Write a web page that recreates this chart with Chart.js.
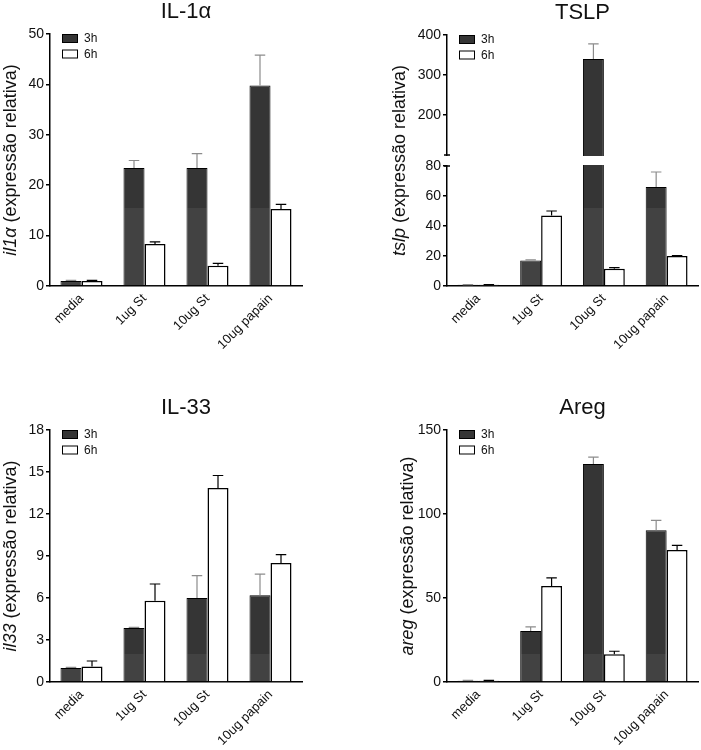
<!DOCTYPE html>
<html>
<head>
<meta charset="utf-8">
<script src="https://cdn.jsdelivr.net/npm/chart.js@4.4.0/dist/chart.umd.min.js"></script>
<style>
  body { margin: 0; background: #fff; }
  #wrap { position: relative; width: 701px; height: 750px; }
  canvas { position: absolute; }
</style>
</head>
<body>
<div id="wrap">
  <canvas id="c1" width="350" height="375" style="left:0;top:0"></canvas>
  <canvas id="c2" width="351" height="375" style="left:350px;top:0"></canvas>
  <canvas id="c3" width="350" height="375" style="left:0;top:375px"></canvas>
  <canvas id="c4" width="351" height="375" style="left:350px;top:375px"></canvas>
</div>
<script>
// data
const groups = ['media', '1ug St', '10ug St', '10ug papain'];
const seriesNames = ['3h', '6h'];

const il1a3h = [1.0, 23.4, 23.4, 39.8];
const il1a3hErr = [0.1, 1.5, 2.85, 6.0];
const il1a6h = [1.0, 8.35, 4.0, 15.3];
const il1a6hErr = [0.1, 0.4, 0.5, 0.9];
const il1aTicks = [0, 10, 20, 30, 40, 50];

const tslp3h = [0.8, 17, 340, 66];
const tslp3hErr = [0.1, 0.4, 38, 10];
const tslp6h = [0.8, 47, 11.5, 20];
const tslp6hErr = [0.1, 3, 0.8, 0.3];
const tslpTicks = [0, 20, 40, 60, 80, 200, 300, 400];
const tslpBreak = [80, 100];

const il33_3h = [1.0, 3.85, 6.0, 6.2];
const il33_3hErr = [0.05, 0.05, 1.6, 1.5];
const il33_6h = [1.1, 5.8, 13.85, 8.5];
const il33_6hErr = [0.4, 1.2, 0.9, 0.6];
const il33Ticks = [0, 3, 6, 9, 12, 15, 18];

const areg3h = [0.8, 30.4, 129.7, 90.4];
const areg3hErr = [0.2, 2.4, 4.2, 5.8];
const areg6h = [0.8, 57.2, 16.5, 78.5];
const areg6hErr = [0.2, 4.8, 1.8, 2.8];
const aregTicks = [0, 50, 100, 150];

const FONT = "'Liberation Sans', Arial, sans-serif";
const dark = '#353535';
const darkLow = '#424242';

// the scanned bars are a shade lighter below a certain row
function darkFill(chart, bandY) {
  const g = chart.ctx.createLinearGradient(0, 0, 0, chart.height);
  const f = bandY / chart.height;
  g.addColorStop(0, dark);
  g.addColorStop(f, dark);
  g.addColorStop(f, darkLow);
  g.addColorStop(1, darkLow);
  return g;
}

// linear scale with a gap between breakLow and breakHigh
class BrokenScale extends Chart.LinearScale {
  static id = 'broken';
  getPixelForValue(value) {
    const o = this.options;
    const lo = o.breakLow, hi = o.breakHigh, a = o.lowShare, g = o.gapShare;
    let d;
    if (value <= lo) d = (value - this.min) / (lo - this.min) * a;
    else if (value >= hi) d = a + g + (value - hi) / (this.max - hi) * (1 - a - g);
    else d = a + (value - lo) / (hi - lo) * g;
    return this.getPixelForDecimal(d);
  }
}
Chart.register(BrokenScale);

const axisBreak = {
  id: 'axisBreak',
  afterDatasetsDraw(chart, args, opts) {
    if (!opts.range) return;
    const y = chart.scales.y;
    const { ctx, chartArea } = chart;
    const yLo = y.getPixelForValue(opts.range[0]);
    const yHi = y.getPixelForValue(opts.range[1]);
    ctx.save();
    ctx.fillStyle = '#fff';
    ctx.fillRect(chartArea.left - 3, yHi + 1, chartArea.right - chartArea.left + 3, yLo - yHi - 2);
    ctx.strokeStyle = '#000';
    ctx.lineWidth = 1.5;
    ctx.beginPath();
    ctx.moveTo(chartArea.left - 3, yHi); ctx.lineTo(chartArea.left + 3, yHi);
    ctx.moveTo(chartArea.left - 3, yLo); ctx.lineTo(chartArea.left + 3, yLo);
    ctx.stroke();
    ctx.restore();
  }
};

const errorBars = {
  id: 'errorBars',
  afterDatasetsDraw(chart) {
    const ctx = chart.ctx;
    const y = chart.scales.y;
    chart.data.datasets.forEach((ds, i) => {
      const meta = chart.getDatasetMeta(i);
      ctx.save();
      ctx.strokeStyle = ds.errorColor;
      ctx.lineWidth = 1.2;
      meta.data.forEach((bar, j) => {
        const top = y.getPixelForValue(ds.data[j] + ds.errors[j]);
        const half = bar.width / 4;
        ctx.beginPath();
        ctx.moveTo(bar.x, bar.y);
        ctx.lineTo(bar.x, top);
        ctx.moveTo(bar.x - half, top);
        ctx.lineTo(bar.x + half, top);
        ctx.stroke();
      });
      ctx.restore();
    });
  }
};

const boxLegend = {
  id: 'boxLegend',
  afterDraw(chart) {
    const { ctx, chartArea } = chart;
    const x = chartArea.left + 12;
    ctx.save();
    chart.data.datasets.forEach((ds, i) => {
      const y = chartArea.top + i * 15.5;
      ctx.fillStyle = ds.legendColor;
      ctx.fillRect(x, y, 16, 9);
      ctx.strokeStyle = '#000';
      ctx.lineWidth = 1;
      ctx.strokeRect(x + 0.5, y + 0.5, 15, 8);
      ctx.fillStyle = '#111';
      ctx.font = '12px ' + FONT;
      ctx.textBaseline = 'middle';
      ctx.fillText(ds.label, x + 22, y + 5);
    });
    ctx.restore();
  }
};

const panelText = {
  id: 'panelText',
  afterDraw(chart, args, opts) {
    const { ctx, chartArea } = chart;
    ctx.save();
    ctx.fillStyle = '#111';
    ctx.textAlign = 'center';
    ctx.textBaseline = 'middle';
    ctx.font = '22px ' + FONT;
    ctx.fillText(opts.title, (chartArea.left + chartArea.right) / 2 + 10, chartArea.top - 22);

    ctx.translate(opts.yTitleX, (chartArea.top + chartArea.bottom) / 2);
    ctx.rotate(-Math.PI / 2);
    ctx.font = 'italic 18px ' + FONT;
    const w1 = ctx.measureText(opts.gene).width;
    ctx.font = '18px ' + FONT;
    const w2 = ctx.measureText(opts.unit).width;
    const x0 = -(w1 + w2) / 2;
    ctx.textAlign = 'left';
    ctx.font = 'italic 18px ' + FONT;
    ctx.fillText(opts.gene, x0, 0);
    ctx.font = '18px ' + FONT;
    ctx.fillText(opts.unit, x0 + w1, 0);
    ctx.restore();
  }
};

function barChart(id, p) {
  const yScale = {
    type: p.yType || 'linear',
    min: 0,
    max: p.ticks[p.ticks.length - 1],
    afterBuildTicks: s => { s.ticks = p.ticks.map(v => ({ value: v })); },
    afterFit: s => { s.width = p.yWidth; },
    grid: { display: true, drawOnChartArea: false, drawTicks: true, tickLength: 4, color: '#000', lineWidth: 1.5 },
    border: { display: true, color: '#000', width: 1.5 },
    ticks: { color: '#111', font: { family: FONT, size: 14 }, padding: 2, autoSkip: false, callback: v => String(v) }
  };
  Object.assign(yScale, p.yExtra || {});

  return new Chart(document.getElementById(id), {
    type: 'bar',
    data: {
      labels: groups,
      datasets: [
        { label: seriesNames[0], data: p.a, errors: p.aErr, backgroundColor: c => darkFill(c.chart, p.bandY), legendColor: dark, borderColor: '#000', borderWidth: 1, errorColor: '#8c8c8c' },
        { label: seriesNames[1], data: p.b, errors: p.bErr, backgroundColor: '#fff', legendColor: '#fff', borderColor: '#000', borderWidth: 1.5, errorColor: '#000' }
      ]
    },
    options: {
      responsive: false,
      animation: false,
      events: [],
      categoryPercentage: 0.667,
      barPercentage: 1.0,
      layout: { padding: { top: p.top, right: p.right, left: 0, bottom: 0 } },
      plugins: {
        legend: { display: false },
        tooltip: { enabled: false },
        panelText: { title: p.title, gene: p.gene, unit: ' (expressão relativa)', yTitleX: p.yTitleX },
        axisBreak: { range: p.breakRange || null }
      },
      scales: {
        x: {
          afterFit: s => { s.height = p.xHeight; },
          grid: { display: false, drawTicks: false },
          border: { display: true, color: '#000', width: 1.5 },
          ticks: { color: '#111', font: { family: FONT, size: 13 }, minRotation: 45, maxRotation: 45, padding: 5, autoSkip: false }
        },
        y: yScale
      }
    },
    plugins: [axisBreak, errorBars, boxLegend, panelText]
  });
}

barChart('c1', {
  title: 'IL-1α', gene: 'il1α', a: il1a3h, aErr: il1a3hErr, b: il1a6h, bErr: il1a6hErr,
  ticks: il1aTicks, yWidth: 50, xHeight: 89, top: 34, right: 48, yTitleX: 11, bandY: 208
});

barChart('c2', {
  title: 'TSLP', gene: 'tslp', a: tslp3h, aErr: tslp3hErr, b: tslp6h, bErr: tslp6hErr,
  ticks: tslpTicks, yWidth: 97, xHeight: 89, top: 35, right: 3, yTitleX: 50, bandY: 208,
  yType: 'broken', breakRange: tslpBreak,
  yExtra: { breakLow: tslpBreak[0], breakHigh: tslpBreak[1], lowShare: 120 / 251, gapShare: 11 / 251 }
});

barChart('c3', {
  title: 'IL-33', gene: 'il33', a: il33_3h, aErr: il33_3hErr, b: il33_6h, bErr: il33_6hErr,
  ticks: il33Ticks, yWidth: 50, xHeight: 68, top: 55, right: 48, yTitleX: 11, bandY: 279
});

barChart('c4', {
  title: 'Areg', gene: 'areg', a: areg3h, aErr: areg3hErr, b: areg6h, bErr: areg6hErr,
  ticks: aregTicks, yWidth: 97, xHeight: 68, top: 55, right: 3, yTitleX: 58, bandY: 279
});
</script>
</body>
</html>
